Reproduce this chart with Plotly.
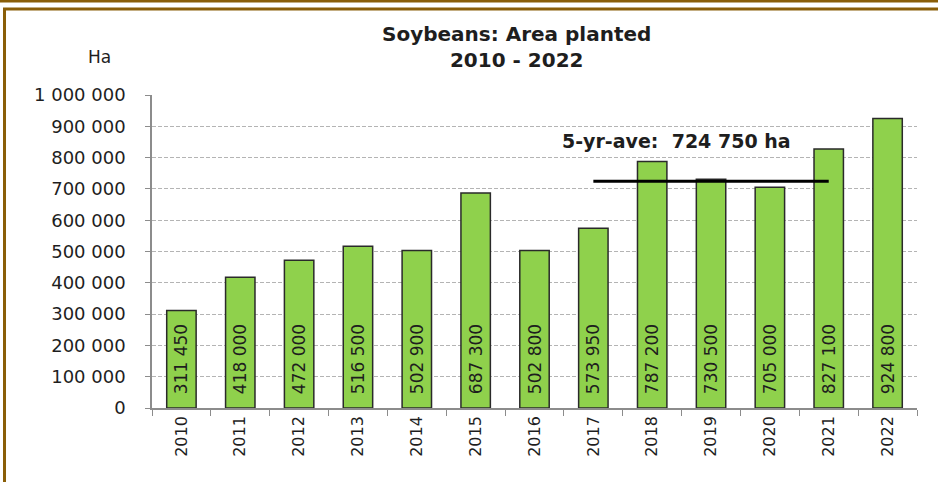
import plotly.graph_objects as go

years = ["2010", "2011", "2012", "2013", "2014", "2015", "2016",
         "2017", "2018", "2019", "2020", "2021", "2022"]
area_ha = [311450, 418000, 472000, 516500, 502900, 687300, 502800,
           573950, 787200, 730500, 705000, 827100, 924800]
avg_years = ["2017", "2021"]
avg_value = 724750
avg_label = "5-yr-ave:  724 750 ha"
title_lines = ["Soybeans: Area planted", "2010 - 2022"]
unit_label = "Ha"
y_ticks = [0, 100000, 200000, 300000, 400000, 500000, 600000, 700000, 800000, 900000, 1000000]

FONT = "DejaVu Sans"
BROWN = "#8a5e08"
TXT = "#1e1e1e"

fig = go.Figure()
fig.add_trace(go.Bar(
    x=years, y=area_ha,
    marker=dict(color="#8fd14c", line=dict(color="#2a2a2a", width=1.5)),
    texttemplate="\u00a0\u00a0%{y:,d}", textposition="inside", insidetextanchor="start",
    textangle=-90, constraintext="none",
    textfont=dict(family=FONT, size=17, color=TXT),
    width=0.5, hoverinfo="x+y",
))
fig.add_trace(go.Scatter(
    x=avg_years, y=[avg_value, avg_value], mode="lines",
    line=dict(color="#000000", width=3), hoverinfo="skip",
))

fig.update_layout(
    width=938, height=482,
    margin=dict(l=152, r=21, t=95, b=74),
    paper_bgcolor="white", plot_bgcolor="white",
    separators=", ",
    showlegend=False,
    font=dict(family=FONT, size=16, color=TXT),
    xaxis=dict(
        type="category", tickangle=-90, showgrid=False,
        showline=True, linecolor="#8c8c8c", linewidth=1.5,
        ticks="outside", tickson="boundaries", ticklen=6, tickcolor="#8c8c8c",
        tickfont=dict(family=FONT, size=16, color=TXT),
    ),
    yaxis=dict(
        range=[0, 1000000], tickvals=y_ticks, tickformat=",d",
        showgrid=True, gridcolor="#b4b4b4", griddash="4px,2px", gridwidth=1,
        showline=True, linecolor="#8c8c8c", linewidth=1.5,
        ticks="outside", ticklen=5, tickcolor="#8c8c8c",
        ticklabelstandoff=16,
        tickfont=dict(family=FONT, size=18, color=TXT),
        zeroline=False,
    ),
    shapes=[
        dict(type="rect", xref="paper", yref="paper",
             x0=-0.1928, x1=1.05, y0=-0.3, y1=1.2748,
             line=dict(color=BROWN, width=3), fillcolor="rgba(0,0,0,0)", layer="below"),
        dict(type="line", xref="paper", yref="paper",
             x0=-0.25, x1=1.05, y0=1.3003, y1=1.3003,
             line=dict(color=BROWN, width=3)),
    ],
    annotations=[
        dict(text="<b>" + title_lines[0] + "</b><br><b>" + title_lines[1] + "</b>",
             xref="paper", yref="paper", x=0.477, y=1.152,
             xanchor="center", yanchor="middle", showarrow=False,
             font=dict(family=FONT, size=20, color=TXT)),
        dict(text=unit_label, xref="paper", yref="paper", x=-0.068, y=1.121,
             xanchor="center", yanchor="middle", showarrow=False,
             font=dict(family=FONT, size=17, color=TXT)),
        dict(text="<b>" + avg_label + "</b>", xref="paper", yref="y",
             x=0.685, y=853000, xanchor="center", yanchor="middle", showarrow=False,
             font=dict(family=FONT, size=19, color=TXT)),
    ],
)

fig.write_html("out.html", config={"displayModeBar": False},
               post_script="document.body.style.margin='0';")
